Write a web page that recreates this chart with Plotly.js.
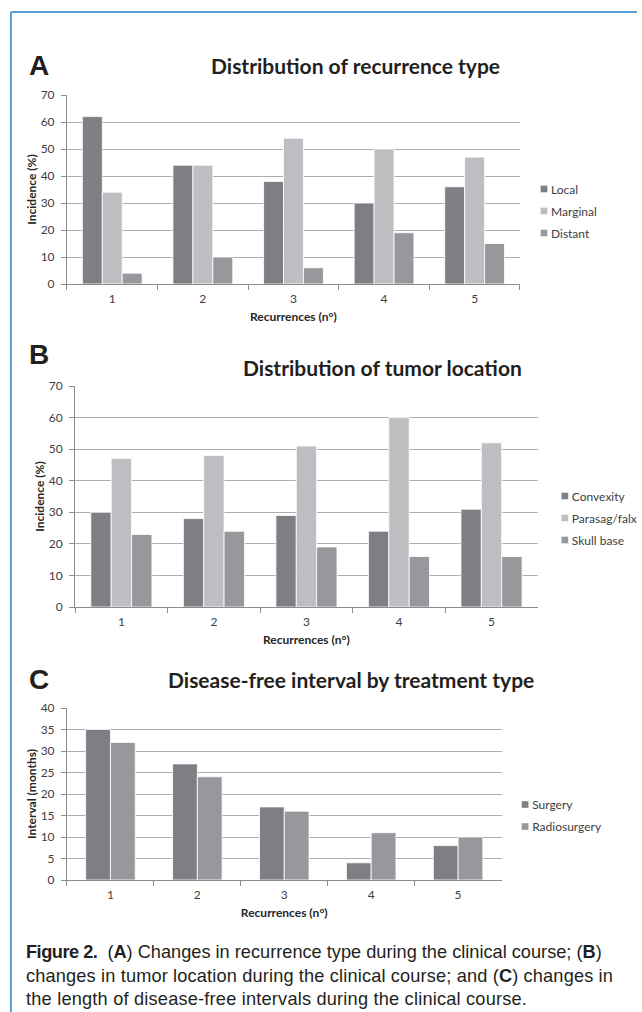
<!DOCTYPE html>
<html>
<head>
<meta charset="utf-8">
<script src="https://cdn.plot.ly/plotly-3.0.1.min.js"></script>
<style>
html,body{margin:0;padding:0;background:#fff;}
#chart{width:642px;height:1012px;}
</style>
</head>
<body>
<div id="chart"></div>
<script>
// ---- data ----
const categories = ["1", "2", "3", "4", "5"];

// Panel A: Distribution of recurrence type (%)
const localA = [62, 44, 38, 30, 36];
const marginalA = [34, 44, 54, 50, 47];
const distantA = [4, 10, 6, 19, 15];

// Panel B: Distribution of tumor location (%)
const convexityB = [30, 28, 29, 24, 31];
const parasagB = [47, 48, 51, 60, 52];
const skullBaseB = [23, 24, 19, 16, 16];

// Panel C: Disease-free interval by treatment type (months)
const surgeryC = [35, 27, 17, 4, 8];
const radiosurgeryC = [32, 24, 16, 11, 10];

const panelLetters = ["A", "B", "C"];
const panelTitles = ["Distribution of recurrence type", "Distribution of tumor location", "Disease-free interval by treatment type"];
const xTitle = "Recurrences (n°)";
const yTitles = ["Incidence (%)", "Incidence (%)", "Interval (months)"];
const captionLines = [
  "<span style=\"letter-spacing:-0.5px\"><b>Figure 2.</b></span>&nbsp; (<b>A</b>) Changes in recurrence type during the clinical course; (<b>B</b>)",
  "<span style=\"letter-spacing:0.15px\">changes in tumor location during the clinical course; and (<b>C</b>) changes in</span>",
  "<span style=\"letter-spacing:0.2px\">the length of disease-free intervals during the clinical course.</span>"
];

// ---- styling ----
const W = 642, H = 1012;
const DARK = "#7e7f84", LIGHT = "#bdbec2", MID = "#97989c";
const FONT = "Lato, 'Open Sans', sans-serif";
const CAPFONT = "'Liberation Sans', Arial, sans-serif";
const px = v => v / W;
const py = v => 1 - v / H;

function bar(name, y, color, xa, ya, leg, extra) {
  return Object.assign({type: "bar", name: name, x: categories, y: y, xaxis: xa, yaxis: ya,
    legend: leg, legendgroup: name,
    marker: {color: color, line: {color: "#ffffff", width: 0.8}}, hoverinfo: "skip"}, extra || {});
}

const data = [
  bar("Local", localA, DARK, "x", "y", "legend"),
  bar("Marginal", marginalA, LIGHT, "x", "y", "legend"),
  bar("Distant", distantA, MID, "x", "y", "legend"),
  bar("Convexity", convexityB, DARK, "x2", "y2", "legend2"),
  bar("Parasag/falx", parasagB, LIGHT, "x2", "y2", "legend2"),
  bar("Skull base", skullBaseB, MID, "x2", "y2", "legend2"),
  bar("Surgery", surgeryC, DARK, "x3", "y3", "legend3", {width: 0.285, offset: -0.285}),
  bar("Radiosurgery", radiosurgeryC, MID, "x3", "y3", "legend3", {width: 0.285, offset: 0})
];

function xaxis(domain, anchor) {
  return {domain: domain, anchor: anchor, type: "category",
    showline: true, linecolor: "#8c8c8c", linewidth: 1,
    ticks: "outside", tickson: "boundaries", ticklen: 5, tickcolor: "#8c8c8c",
    ticklabelstandoff: 4,
    tickfont: {family: FONT, size: 12, color: "#404040"},
    title: {text: xTitle, font: {family: FONT, size: 12, color: "#262626", weight: "bold"}, standoff: 7},
    showgrid: false, zeroline: false, fixedrange: true};
}
function yaxis(domain, anchor, range, dtick, title) {
  return {domain: domain, anchor: anchor, range: range, dtick: dtick,
    showline: true, linecolor: "#8c8c8c", linewidth: 1,
    ticks: "outside", ticklen: 5, tickcolor: "#8c8c8c",
    ticklabelstandoff: 4,
    tickfont: {family: FONT, size: 12, color: "#404040"},
    showgrid: true, gridcolor: "#adadad", gridwidth: 1, zeroline: false,
    title: {text: title, font: {family: FONT, size: 12, color: "#262626", weight: "bold"}, standoff: 1},
    fixedrange: true};
}
function legend(ycenter, textLeft) {
  return {x: px(textLeft - 40), y: py(ycenter), xanchor: "left", yanchor: "middle",
    bgcolor: "rgba(0,0,0,0)", font: {family: FONT, size: 12, color: "#404040"},
    itemclick: false, itemdoubleclick: false, traceorder: "grouped", tracegroupgap: 3};
}

const letterFont = {family: "'Liberation Sans', Arial, sans-serif", size: 28, color: "#231f20", weight: "bold"};
const titleFont = {family: FONT, size: 21, color: "#231f20", weight: "bold"};

const annotations = [
  {text: panelLetters[0], x: px(27), y: py(66), xanchor: "left", yanchor: "middle", font: letterFont},
  {text: panelLetters[1], x: px(27), y: py(354), xanchor: "left", yanchor: "middle", font: letterFont},
  {text: panelLetters[2], x: px(27), y: py(679), xanchor: "left", yanchor: "middle", font: letterFont},
  {text: panelTitles[0], x: px(358), y: py(66), xanchor: "center", yanchor: "middle", font: titleFont},
  {text: panelTitles[1], x: px(385), y: py(367), xanchor: "center", yanchor: "middle", font: titleFont},
  {text: panelTitles[2], x: px(354), y: py(679), xanchor: "center", yanchor: "middle", font: titleFont},
  {text: captionLines.join("<br>"), x: px(24), y: py(975.5), xanchor: "left", yanchor: "middle", align: "left",
   font: {family: CAPFONT, size: 18.2, color: "#231f20"}}
].map(a => Object.assign({xref: "paper", yref: "paper", showarrow: false}, a));

const BLUE = "#5b9bd5";
const shapes = [
  {type: "line", xref: "paper", yref: "paper", x0: px(11), x1: 1, y0: py(12), y1: py(12), line: {color: BLUE, width: 2}},
  {type: "line", xref: "paper", yref: "paper", x0: px(11), x1: px(11), y0: py(12), y1: 0, line: {color: BLUE, width: 2}}
];

const layout = {
  width: W, height: H,
  margin: {l: 0, r: 0, t: 0, b: 0},
  paper_bgcolor: "#ffffff", plot_bgcolor: "#ffffff",
  barmode: "group",
  bargap: 0.34, bargroupgap: 0,
  showlegend: true,
  xaxis: xaxis([px(67.5), px(524)], "y"),
  yaxis: yaxis([py(284), py(95)], "x", [0, 70], 10, yTitles[0]),
  xaxis2: xaxis([px(75.7), px(542)], "y2"),
  yaxis2: yaxis([py(607), py(386)], "x2", [0, 70], 10, yTitles[1]),
  xaxis3: xaxis([px(67.5), px(505.5)], "y3"),
  yaxis3: yaxis([py(880), py(708)], "x3", [0, 40], 5, yTitles[2]),
  legend: legend(211, 555),
  legend2: legend(518, 576),
  legend3: legend(815.5, 536),
  annotations: annotations,
  shapes: shapes
};

Plotly.newPlot("chart", data, layout, {staticPlot: true, displayModeBar: false}).then(gd => {
  // small square swatches placed just before the legend text, as in the original
  gd.querySelectorAll(".legendpoints path").forEach(p => {
    p.setAttribute("transform", "translate(33,0) scale(0.6)");
  });
});
</script>
</body>
</html>
